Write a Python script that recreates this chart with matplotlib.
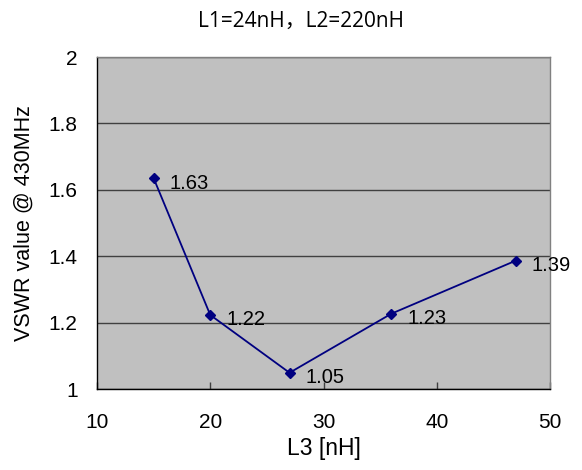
import matplotlib
matplotlib.use("Agg")
import matplotlib.pyplot as plt

# data
l3_nh = [15, 20, 27, 36, 47]
vswr = [1.635, 1.223, 1.049, 1.227, 1.387]
point_labels = ["1.63", "1.22", "1.05", "1.23", "1.39"]
x_ticks = [10, 20, 30, 40, 50]
y_ticks = [1, 1.2, 1.4, 1.6, 1.8, 2]
y_tick_labels = ["1", "1.2", "1.4", "1.6", "1.8", "2"]

plt.rcParams['font.family'] = ['Liberation Sans', 'DejaVu Sans']

fig = plt.figure(figsize=(5.82, 4.70), dpi=100)
ax = fig.add_axes([0.1667, 0.1723, 0.7783, 0.7064])
ax.set_facecolor("#C0C0C0")

ax.plot(l3_nh, vswr, color="#000080", lw=1.3, marker="D", ms=5.5,
        markerfacecolor="#000080", markeredgecolor="#000080", zorder=3)
for x, y, t in zip(l3_nh, vswr, point_labels):
    ax.annotate(t, (x, y), xytext=(11.5, -3.5), textcoords="offset points",
                ha="left", va="center", fontsize=14.5, color="black")

ax.set_xlim(10, 50)
ax.set_ylim(1, 2)
ax.set_xticks(x_ticks)
ax.set_yticks(y_ticks)
ax.set_yticklabels(y_tick_labels)
ax.yaxis.grid(True, color="#404040", lw=1)
ax.set_axisbelow(True)

ax.tick_params(axis="x", direction="in", length=5, width=1, color="#404040",
               labelsize=15, pad=17)
ax.tick_params(axis="y", length=0, labelsize=15, pad=14)

for s in ["left", "bottom"]:
    ax.spines[s].set_color("#000000")
    ax.spines[s].set_linewidth(1)
for s in ["top", "right"]:
    ax.spines[s].set_color("#808080")
    ax.spines[s].set_linewidth(1)

ax.set_xlabel("L3 [nH]", fontsize=16.5, labelpad=4)
ax.set_ylabel("VSWR value @ 430MHz", fontsize=15.5, labelpad=10)
fig.text(0.518, 0.955, "L1=24nH，L2=220nH", ha="center", va="center",
         fontsize=15, family=["Open Sans", "Noto Sans CJK JP", "DejaVu Sans"])

fig.savefig("out.png", dpi=100)
